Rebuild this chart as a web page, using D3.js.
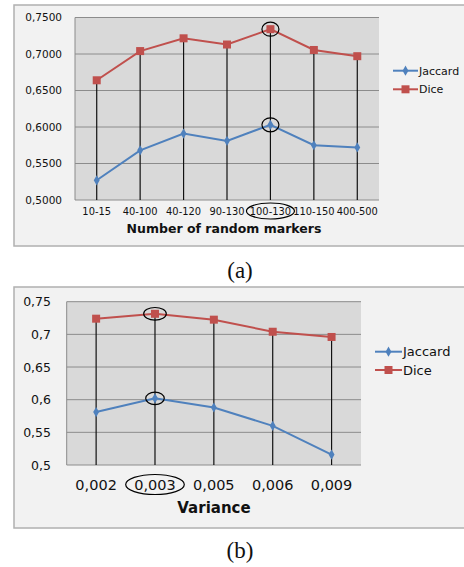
<!DOCTYPE html>
<html>
<head>
<meta charset="utf-8">
<script src="https://cdn.jsdelivr.net/npm/d3@7"></script>
<style>
  html, body { margin: 0; padding: 0; background: #fff; }
  svg { display: block; }
  text { font-family: "DejaVu Sans", Verdana, sans-serif; fill: #111; }
</style>
</head>
<body>
<div id="chart"></div>
<script>
(function () {
  'use strict';

  // ── data ───────────────────────────────────────────
  var catsA = ['10-15', '40-100', '40-120', '90-130', '100-130', '110-150', '400-500'];
  var jaccardA = [0.527, 0.568, 0.591, 0.581, 0.603, 0.575, 0.572];
  var diceA = [0.664, 0.704, 0.7215, 0.713, 0.734, 0.7055, 0.697];
  var ticksA = [0.5, 0.55, 0.6, 0.65, 0.7, 0.75];

  var catsB = ['0,002', '0,003', '0,005', '0,006', '0,009'];
  var jaccardB = [0.581, 0.602, 0.588, 0.560, 0.516];
  var diceB = [0.724, 0.7315, 0.7225, 0.704, 0.696];
  var ticksB = [0.5, 0.55, 0.6, 0.65, 0.7, 0.75];

  var seriesNames = ['Jaccard', 'Dice'];
  var colJ = '#4f81bd', colD = '#c0504d';

  var loc = d3.formatLocale({ decimal: ',', thousands: '.', grouping: [3], currency: ['', ''] });

  var svg = d3.select('#chart').append('svg')
    .attr('width', 464).attr('height', 567);

  function panel(o) {
    // outer box
    svg.append('rect')
      .attr('x', o.box[0]).attr('y', o.box[1])
      .attr('width', o.box[2]).attr('height', o.box[3])
      .attr('fill', '#f2f2f2').attr('stroke', '#b0b0b0').attr('stroke-width', 1.5);

    var x = d3.scalePoint().domain(o.cats).range([o.plot[0], o.plot[1]]).padding(0.5);
    var y = d3.scaleLinear().domain([0.5, 0.75]).range([o.plot[3], o.plot[2]]);

    var g = svg.append('g');
    g.append('rect')
      .attr('x', o.plot[0]).attr('y', o.plot[2])
      .attr('width', o.plot[1] - o.plot[0]).attr('height', o.plot[3] - o.plot[2])
      .attr('fill', '#d9d9d9');

    // gridlines
    g.selectAll('line.grid').data(o.ticks).enter().append('line')
      .attr('x1', o.plot[0]).attr('x2', o.plot[1])
      .attr('y1', function (d) { return y(d); }).attr('y2', function (d) { return y(d); })
      .attr('stroke', '#8c8c8c').attr('stroke-width', 1);

    // axis line
    g.append('line')
      .attr('x1', o.plot[0]).attr('x2', o.plot[0])
      .attr('y1', o.plot[2]).attr('y2', o.plot[3])
      .attr('stroke', '#8c8c8c');

    // y labels
    g.selectAll('text.yl').data(o.ticks).enter().append('text')
      .attr('x', o.ylabX).attr('y', function (d) { return y(d); })
      .attr('dy', '0.36em').attr('text-anchor', 'end')
      .style('font-size', o.yFont + 'px')
      .text(function (d) { return loc.format(o.yFmt)(d); });

    // drop lines
    g.selectAll('line.drop').data(o.cats).enter().append('line')
      .attr('x1', function (d) { return x(d); }).attr('x2', function (d) { return x(d); })
      .attr('y1', function (d, i) { return y(o.dice[i]); }).attr('y2', o.plot[3])
      .attr('stroke', '#111').attr('stroke-width', 1.2);

    // x labels
    g.selectAll('text.xl').data(o.cats).enter().append('text')
      .attr('x', function (d) { return x(d); }).attr('y', o.xlabY)
      .attr('dy', '0.36em').attr('text-anchor', 'middle')
      .style('font-size', o.xFont + 'px')
      .text(function (d) { return d; });

    g.append('text')
      .attr('x', o.titleX).attr('y', o.titleY).attr('dy', '0.36em')
      .attr('text-anchor', 'middle')
      .style('font-size', o.titleFont + 'px').style('font-weight', 'bold')
      .text(o.title);

    var line = d3.line()
      .x(function (d, i) { return x(o.cats[i]); })
      .y(function (d) { return y(d); });

    g.append('path').datum(o.jac).attr('d', line)
      .attr('fill', 'none').attr('stroke', colJ).attr('stroke-width', 2);
    g.append('path').datum(o.dice).attr('d', line)
      .attr('fill', 'none').attr('stroke', colD).attr('stroke-width', 2);

    var diamond = d3.symbol().type(d3.symbolDiamond).size(30);
    g.selectAll('path.mj').data(o.jac).enter().append('path')
      .attr('d', diamond)
      .attr('transform', function (d, i) { return 'translate(' + x(o.cats[i]) + ',' + y(d) + ')'; })
      .attr('fill', colJ);
    g.selectAll('rect.md').data(o.dice).enter().append('rect')
      .attr('x', function (d, i) { return x(o.cats[i]) - 4; })
      .attr('y', function (d) { return y(d) - 4; })
      .attr('width', 8).attr('height', 8)
      .attr('fill', colD);

    // highlight circles
    var h = o.hi;
    var hx = x(o.cats[h]);
    [[o.dice[h], o.ringD], [o.jac[h], o.ringJ]].forEach(function (r) {
      g.append('ellipse')
        .attr('cx', hx).attr('cy', y(r[0]))
        .attr('rx', r[1][0]).attr('ry', r[1][1])
        .attr('fill', 'none').attr('stroke', '#000').attr('stroke-width', 1.2);
    });
    g.append('ellipse')
      .attr('cx', hx).attr('cy', o.xlabY)
      .attr('rx', o.ringL[0]).attr('ry', o.ringL[1])
      .attr('fill', 'none').attr('stroke', '#000').attr('stroke-width', 1.2);

    // legend
    var lg = g.append('g');
    seriesNames.forEach(function (name, i) {
      var ly = o.legY[i];
      var c = i === 0 ? colJ : colD;
      lg.append('line')
        .attr('x1', o.legX).attr('x2', o.legX + o.legW)
        .attr('y1', ly).attr('y2', ly)
        .attr('stroke', c).attr('stroke-width', 2);
      if (i === 0) {
        lg.append('path').attr('d', diamond)
          .attr('transform', 'translate(' + (o.legX + o.legW / 2) + ',' + ly + ')')
          .attr('fill', c);
      } else {
        lg.append('rect')
          .attr('x', o.legX + o.legW / 2 - 4).attr('y', ly - 4)
          .attr('width', 8).attr('height', 8).attr('fill', c);
      }
      lg.append('text')
        .attr('x', o.legX + o.legW + 1).attr('y', ly).attr('dy', '0.36em')
        .style('font-size', o.legFont + 'px')
        .text(name);
    });

    svg.append('text')
      .attr('x', 240).attr('y', o.capY).attr('dy', '0.36em')
      .attr('text-anchor', 'middle')
      .style('font-family', '"Liberation Serif", "Times New Roman", serif')
      .style('font-size', '23px')
      .text(o.caption);
  }

  panel({
    box: [14, 5, 460, 241],
    plot: [75, 379, 17.5, 200],
    cats: catsA, jac: jaccardA, dice: diceA, ticks: ticksA,
    yFmt: '.4f', yFont: 10.5, ylabX: 62,
    xFont: 9.9, xlabY: 211,
    title: 'Number of random markers', titleX: 224, titleY: 228, titleFont: 12.5,
    hi: 4, ringD: [8.5, 7], ringJ: [8.5, 7], ringL: [24, 8],
    legX: 393, legW: 25, legY: [70.7, 89.3], legFont: 11,
    caption: '(a)', capY: 270
  });

  panel({
    box: [14, 287, 460, 241],
    plot: [66.7, 361, 301.7, 465],
    cats: catsB, jac: jaccardB, dice: diceB, ticks: ticksB,
    yFmt: '', yFont: 12.5, ylabX: 51,
    xFont: 14.5, xlabY: 484.5,
    title: 'Variance', titleX: 214, titleY: 507.5, titleFont: 15,
    hi: 1, ringD: [11.3, 6.3], ringJ: [9.3, 6.3], ringL: [29.3, 10],
    legX: 375, legW: 27, legY: [351.7, 370], legFont: 13,
    caption: '(b)', capY: 550
  });
})();
</script>
</body>
</html>
